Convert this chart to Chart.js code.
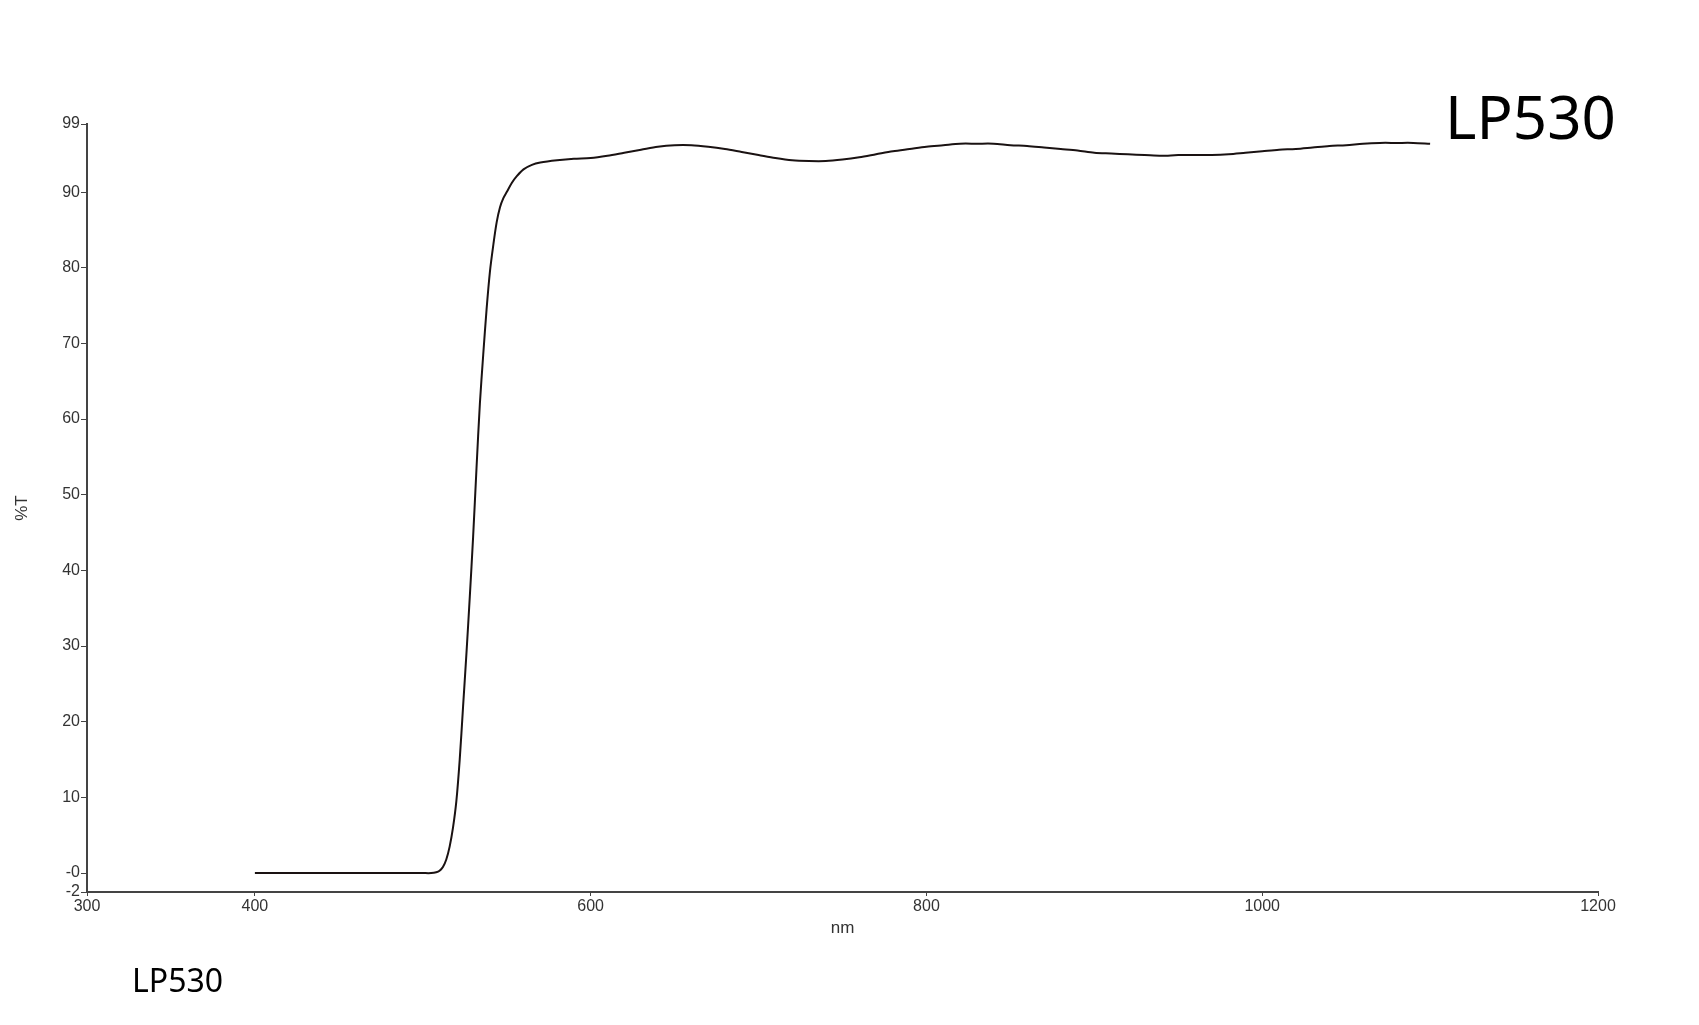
<!DOCTYPE html>
<html>
<head>
<meta charset="utf-8">
<title>LP530</title>
<script src="https://cdn.jsdelivr.net/npm/chart.js@4"></script>
<style>
  html, body { margin: 0; padding: 0; background: #fff; }
  canvas { display: block; }
</style>
</head>
<body>
<canvas id="chart" width="1699" height="1025"></canvas>
<script>
// wavelength (nm) and transmission (%T)
const wavelengths = [
  400, 420, 440, 460, 480, 500, 505, 508, 510, 512, 514, 516, 518, 520,
  522, 524, 526, 528, 530, 532, 534, 536, 538, 540, 542, 544, 546, 548,
  550, 553, 556, 560, 565, 570, 580, 590, 600, 610, 620, 630, 640, 650,
  660, 670, 680, 690, 700, 710, 720, 730, 740, 750, 760, 770, 780, 790,
  800, 810, 820, 830, 840, 850, 860, 870, 880, 890, 900, 910, 920, 930,
  940, 950, 960, 970, 980, 990, 1000, 1010, 1020, 1030, 1040, 1050, 1060,
  1070, 1080, 1090, 1100
];
const transmission = [
  0.0, 0.0, 0.0, 0.0, 0.0, 0.0, 0.0, 0.1, 0.3, 0.8, 1.8, 3.5, 6.0, 9.5,
  15.0, 22.0, 29.0, 36.5, 44.5, 53.5, 62.0, 68.5, 74.5, 79.5, 83.0, 86.0, 88.0, 89.2,
  90.0, 91.2, 92.1, 93.0, 93.6, 93.9, 94.2, 94.4, 94.5, 94.8, 95.2, 95.6, 96.0, 96.2,
  96.2, 96.0, 95.7, 95.3, 94.9, 94.5, 94.2, 94.1, 94.1, 94.3, 94.6, 95.0, 95.4, 95.7,
  96.0, 96.2, 96.4, 96.4, 96.4, 96.2, 96.1, 95.9, 95.7, 95.5, 95.2, 95.1, 95.0, 94.9,
  94.8, 94.9, 94.9, 94.9, 95.0, 95.2, 95.4, 95.6, 95.7, 95.9, 96.1, 96.2, 96.4,
  96.5, 96.5, 96.5, 96.4
];
const xTicks = [300, 400, 600, 800, 1000, 1200];
const yTicks = [-2.5, 0, 10, 20, 30, 40, 50, 60, 70, 80, 90, 99];
const seriesName = "LP530";

const axisColor = "#444";
const tickFont = { family: "Liberation Sans, Arial, sans-serif", size: 16 };

// series name at the end of the trace + the caption under the plot
const labelPlugin = {
  id: "seriesLabels",
  afterDraw(chart) {
    const ctx = chart.ctx;
    const meta = chart.getDatasetMeta(0);
    const last = meta.data[meta.data.length - 1];
    ctx.save();
    ctx.fillStyle = "#000";
    ctx.textBaseline = "alphabetic";
    ctx.textAlign = "left";
    ctx.font = "60px 'Noto Sans', sans-serif";
    ctx.fillText(chart.data.datasets[0].label, last.x + 15, last.y - 5);
    ctx.font = "32px 'Noto Sans', sans-serif";
    ctx.fillText(chart.data.datasets[0].label, 132, 992);
    ctx.restore();
  }
};

new Chart(document.getElementById("chart"), {
  type: "line",
  data: {
    datasets: [{
      label: seriesName,
      data: wavelengths.map((w, i) => ({ x: w, y: transmission[i] })),
      borderColor: "#1a1212",
      borderWidth: 2,
      pointRadius: 0,
      tension: 0.3,
      fill: false
    }]
  },
  options: {
    responsive: false,
    animation: false,
    devicePixelRatio: 1,
    layout: { padding: { left: 0, right: 101, top: 124, bottom: 86 } },
    plugins: {
      legend: { display: false },
      tooltip: { enabled: false }
    },
    scales: {
      x: {
        type: "linear",
        min: 300,
        max: 1200,
        afterBuildTicks: (axis) => { axis.ticks = xTicks.map((v) => ({ value: v })); },
        afterFit: (axis) => { axis.height = 47; },
        grid: { drawOnChartArea: false, drawTicks: true, tickLength: 4, color: axisColor },
        border: { display: true, color: axisColor, width: 2 },
        ticks: {
          color: "#333",
          font: tickFont,
          padding: 1,
          maxRotation: 0,
          autoSkip: false,
          callback: (v) => String(v)
        },
        title: { display: true, text: "nm", color: "#333", font: { family: "Liberation Sans, Arial, sans-serif", size: 17 }, padding: 0 }
      },
      y: {
        type: "linear",
        min: -2.5,
        max: 99,
        afterBuildTicks: (axis) => { axis.ticks = yTicks.map((v) => ({ value: v })); },
        afterFit: (axis) => { axis.width = 87; },
        grid: { drawOnChartArea: false, drawTicks: true, tickLength: 6, color: axisColor },
        border: { display: true, color: axisColor, width: 2 },
        ticks: {
          color: "#333",
          font: tickFont,
          padding: 1,
          autoSkip: false,
          callback: (v) => (v < 0 ? "-2" : v === 0 ? "-0" : String(v))
        },
        title: { display: true, text: "%T", color: "#333", font: { family: "Liberation Sans, Arial, sans-serif", size: 17 }, padding: { top: 12, bottom: 0 } }
      }
    }
  },
  plugins: [labelPlugin]
});
</script>
</body>
</html>
